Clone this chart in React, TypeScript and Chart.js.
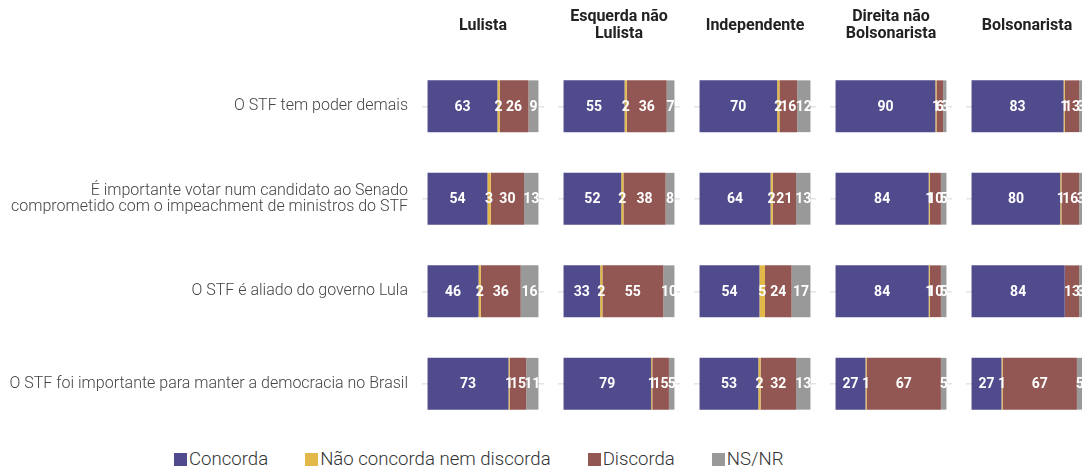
import React, { useEffect, useRef } from "react";
import { Chart, registerables } from "chart.js";

Chart.register(...registerables);

// ---------- DATA ----------
const statements: (string | string[])[] = [
  "O STF tem poder demais",
  ["É importante votar num candidato ao Senado", "comprometido com o impeachment de ministros do STF"],
  "O STF é aliado do governo Lula",
  "O STF foi importante para manter a democracia no Brasil",
];

const groups: string[][] = [
  ["Lulista"],
  ["Esquerda não", "Lulista"],
  ["Independente"],
  ["Direita não", "Bolsonarista"],
  ["Bolsonarista"],
];

const seriesNames = ["Concorda", "Não concorda nem discorda", "Discorda", "NS/NR"];
const seriesColors = ["#4F4B8C", "#E2B948", "#935753", "#999999"];

// one row per group (panel), one value per statement
const concorda = [
  [63, 54, 46, 73],
  [55, 52, 33, 79],
  [70, 64, 54, 53],
  [90, 84, 84, 27],
  [83, 80, 84, 27],
];
const neutro = [
  [2, 3, 2, 1],
  [2, 2, 2, 1],
  [2, 2, 5, 2],
  [1, 1, 1, 1],
  [1, 1, 0, 1],
];
const discorda = [
  [26, 30, 36, 15],
  [36, 38, 55, 15],
  [16, 21, 24, 32],
  [6, 10, 10, 67],
  [13, 16, 13, 67],
];
const nsnr = [
  [9, 13, 16, 11],
  [7, 8, 10, 5],
  [12, 13, 17, 13],
  [3, 5, 5, 5],
  [3, 3, 3, 5],
];

const seriesValues = [concorda, neutro, discorda, nsnr];

// ---------- LAYOUT ----------
const FONT = "Roboto";
const CANVAS_H = 438;
const FIRST_AXIS_W = 422;
const PANEL_W = 122;
const PANEL_STEP = 136;

const titlePlugin = (lines: string[]) => ({
  id: "panelTitle",
  afterDraw(chart: any) {
    const { ctx, chartArea } = chart;
    const cx = (chartArea.left + chartArea.right) / 2;
    ctx.save();
    ctx.font = `bold 16px ${FONT}`;
    ctx.fillStyle = "#222";
    ctx.textAlign = "center";
    ctx.textBaseline = "middle";
    const lh = 17;
    const start = 25.5 - ((lines.length - 1) * lh) / 2;
    lines.forEach((l, i) => ctx.fillText(l, cx, start + i * lh));
    ctx.restore();
  },
});

const valueLabelPlugin = {
  id: "valueLabels",
  afterDatasetsDraw(chart: any) {
    const { ctx } = chart;
    ctx.save();
    ctx.font = `bold 14px ${FONT}`;
    ctx.fillStyle = "#ffffff";
    ctx.textAlign = "center";
    ctx.textBaseline = "middle";
    chart.data.datasets.forEach((ds: any, di: number) => {
      const meta = chart.getDatasetMeta(di);
      meta.data.forEach((el: any, i: number) => {
        const v = ds.data[i];
        if (!v) return;
        const p = el.getProps(["x", "y", "base"], true);
        ctx.fillText(String(v), (p.x + p.base) / 2, p.y + 1);
      });
    });
    ctx.restore();
  },
};

function buildConfig(panel: number): any {
  const first = panel === 0;
  return {
    type: "bar",
    data: {
      labels: statements,
      datasets: seriesNames.map((name, s) => ({
        label: name,
        data: seriesValues[s][panel],
        backgroundColor: seriesColors[s],
        borderWidth: 0,
        barPercentage: 0.56,
        categoryPercentage: 1,
      })),
    },
    options: {
      indexAxis: "y",
      responsive: false,
      maintainAspectRatio: false,
      animation: false,
      layout: { padding: { top: 60, bottom: 8, left: 0, right: 0 } },
      plugins: {
        legend: { display: false },
        title: { display: false },
        tooltip: { enabled: false },
      },
      scales: {
        x: {
          type: "linear",
          stacked: true,
          min: -5,
          max: 105,
          display: false,
        },
        y: {
          type: "category",
          stacked: true,
          offset: true,
          border: { display: false },
          grid: {
            display: true,
            offset: false,
            drawTicks: false,
            color: "#e4e4e4",
            lineWidth: 1.5,
          },
          ticks: {
            display: first,
            padding: 14,
            color: "#444",
            font: { family: FONT, size: 16, weight: 300, lineHeight: 1.0 },
          },
          afterFit(scale: any) {
            scale.width = first ? FIRST_AXIS_W : 0;
            scale.paddingTop = 0;
            scale.paddingBottom = 0;
          },
        },
      },
    },
    plugins: [titlePlugin(groups[panel]), valueLabelPlugin],
  };
}

function Panel({ index }: { index: number }) {
  const ref = useRef<HTMLCanvasElement | null>(null);
  useEffect(() => {
    if (!ref.current) return;
    const chart = new Chart(ref.current, buildConfig(index));
    return () => chart.destroy();
  }, [index]);
  const left = index === 0 ? 0 : FIRST_AXIS_W + PANEL_STEP * index;
  const width = index === 0 ? FIRST_AXIS_W + PANEL_W : PANEL_W;
  return (
    <canvas
      ref={ref}
      width={width}
      height={CANVAS_H}
      style={{ position: "absolute", left, top: 0, width, height: CANVAS_H }}
    />
  );
}

export default function App() {
  return (
    <div
      style={{
        position: "fixed",
        left: 0,
        top: 0,
        width: 1082,
        height: 466,
        overflow: "hidden",
        background: "#ffffff",
      }}
    >
      {groups.map((_, i) => (
        <Panel key={i} index={i} />
      ))}
      <div
        style={{
          position: "absolute",
          left: 174,
          top: 450,
          display: "flex",
          alignItems: "center",
          gap: 37,
          fontFamily: FONT,
          fontWeight: 300,
          fontSize: 18.6,
          lineHeight: "18px",
          color: "#333",
          whiteSpace: "nowrap",
        }}
      >
        {seriesNames.map((n, i) => (
          <div key={n} style={{ display: "flex", alignItems: "center" }}>
            <span
              style={{
                display: "inline-block",
                width: 13,
                height: 13,
                background: seriesColors[i],
                marginRight: 2,
              }}
            />
            <span>{n}</span>
          </div>
        ))}
      </div>
    </div>
  );
}
